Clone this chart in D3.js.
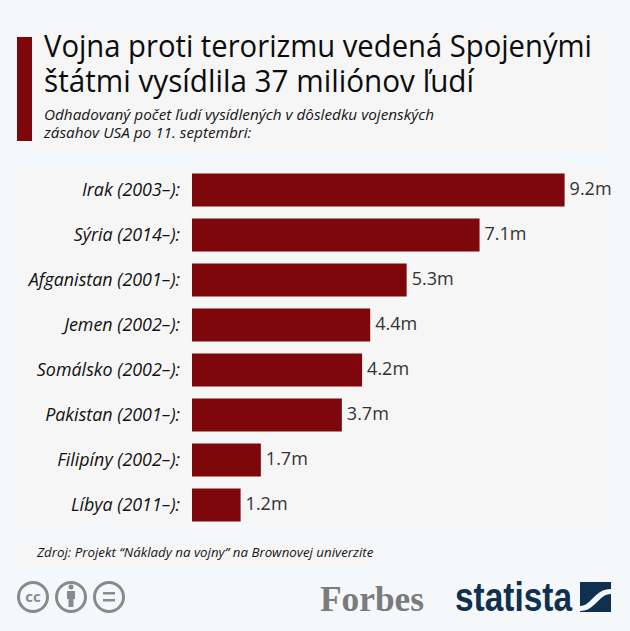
<!DOCTYPE html>
<html>
<head>
<meta charset="utf-8">
<script src="https://cdn.jsdelivr.net/npm/d3@7"></script>
<style>
    html, body { margin: 0; padding: 0; background: #f5f8fb; }
    svg { display: block; }
    text { font-family: "Open Sans", sans-serif; }
</style>
</head>
<body>
<div id="chart"></div>
<script>
const countries = ["Irak (2003–):", "Sýria (2014–):", "Afganistan (2001–):", "Jemen (2002–):",
    "Somálsko (2002–):", "Pakistan (2001–):", "Filipíny (2002–):", "Líbya (2011–):"];
const displaced = [9.2, 7.1, 5.3, 4.4, 4.2, 3.7, 1.7, 1.2];
const titleLines = ["Vojna proti terorizmu vedená Spojenými", "štátmi vysídlila 37 miliónov ľudí"];
const subtitleLines = ["Odhadovaný počet ľudí vysídlených v dôsledku vojenských", "zásahov USA po 11. septembri:"];
const source = "Zdroj: Projekt “Náklady na vojny”  na Brownovej univerzite";

const width = 630, height = 631;
const red = "#7d070b";

const svg = d3.select("#chart")
    .append("svg")
    .attr("width", width)
    .attr("height", height);

// background panels
svg.append("rect").attr("x", 0).attr("y", 0).attr("width", width).attr("height", height).attr("fill", "#f5f8fb");
svg.append("rect").attr("x", 32).attr("y", 30).attr("width", 578).attr("height", 123).attr("fill", "#f6f6f7");
svg.append("rect").attr("x", 16).attr("y", 170).attr("width", 596).attr("height", 354).attr("fill", "#f6f6f7");
svg.append("rect").attr("x", 12).attr("y", 541).attr("width", 362).attr("height", 26).attr("fill", "#f6f6f7");
svg.append("rect").attr("x", 17).attr("y", 37).attr("width", 15).attr("height", 104).attr("fill", red);

// header
svg.selectAll(".title")
    .data(titleLines)
    .join("text")
    .attr("class", "title")
    .attr("x", 44)
    .attr("y", (d, i) => 57 + i * 35)
    .attr("font-size", 30.5)
    .attr("font-weight", 500)
    .attr("fill", "#0c0c0c")
    .attr("textLength", (d, i) => i === 0 ? 548 : 430)
    .attr("lengthAdjust", "spacingAndGlyphs")
    .text(d => d);

svg.selectAll(".subtitle")
    .data(subtitleLines)
    .join("text")
    .attr("class", "subtitle")
    .attr("x", 44)
    .attr("y", (d, i) => 120 + i * 18)
    .attr("font-size", 15.3)
    .attr("font-style", "italic")
    .attr("font-weight", 500)
    .attr("fill", "#151515")
    .text(d => d);

// scales
const x = d3.scaleLinear().domain([0, 10]).range([192, 597]);
const y = d3.scaleBand()
    .domain(countries)
    .range([167.5, 527.5])
    .paddingInner(12 / 45)
    .paddingOuter(6 / 45);

// bars
svg.append("g")
    .selectAll("rect")
    .data(displaced)
    .join("rect")
    .attr("x", x(0))
    .attr("y", (d, i) => y(countries[i]))
    .attr("width", d => x(d) - x(0))
    .attr("height", y.bandwidth())
    .attr("fill", red);

// category labels
svg.append("g")
    .selectAll("text")
    .data(countries)
    .join("text")
    .attr("x", 180)
    .attr("y", d => y(d) + y.bandwidth() / 2)
    .attr("dy", "0.35em")
    .attr("text-anchor", "end")
    .attr("font-size", 17.9)
    .attr("font-style", "italic")
    .attr("font-weight", 500)
    .attr("fill", "#111")
    .text(d => d);

// value labels
svg.append("g")
    .selectAll("text")
    .data(displaced)
    .join("text")
    .attr("x", d => x(d) + 5)
    .attr("y", (d, i) => y(countries[i]) + y.bandwidth() / 2 - 1)
    .attr("dy", "0.35em")
    .attr("font-size", 18)
    .attr("fill", "#333")
    .text(d => d3.format(".1f")(d) + "m");

// source
svg.append("text")
    .attr("x", 37)
    .attr("y", 557)
    .attr("font-size", 13.3)
    .attr("font-style", "italic")
    .attr("font-weight", 500)
    .attr("fill", "#151515")
    .text(source);

// cc icons
const icons = svg.append("g").attr("fill", "none").attr("stroke", "#8a8a8a").attr("stroke-width", 3);
[33, 71, 109].forEach(cx => {
    icons.append("circle").attr("cx", cx).attr("cy", 597).attr("r", 14.5);
});
svg.append("text").attr("x", 33).attr("y", 602).attr("text-anchor", "middle")
    .attr("font-size", 15).attr("font-weight", 700).attr("fill", "#8a8a8a").text("cc");
svg.append("circle").attr("cx", 71).attr("cy", 587).attr("r", 2.5).attr("fill", "#8a8a8a");
svg.append("rect").attr("x", 67).attr("y", 591).attr("width", 8).attr("height", 8).attr("fill", "#8a8a8a");
svg.append("rect").attr("x", 68.5).attr("y", 598).attr("width", 5).attr("height", 9).attr("fill", "#8a8a8a");
svg.append("rect").attr("x", 103).attr("y", 592).attr("width", 12).attr("height", 2.5).attr("fill", "#8a8a8a");
svg.append("rect").attr("x", 103).attr("y", 599).attr("width", 12).attr("height", 2.5).attr("fill", "#8a8a8a");

// logos
svg.append("text")
    .attr("x", 320)
    .attr("y", 611)
    .attr("font-size", 36)
    .attr("font-weight", 700)
    .attr("fill", "#7b7b7b")
    .style("font-family", "'Liberation Serif', serif")
    .attr("textLength", 104)
    .attr("lengthAdjust", "spacingAndGlyphs")
    .text("Forbes");

svg.append("text")
    .attr("x", 455)
    .attr("y", 611)
    .attr("font-size", 41)
    .attr("font-weight", 700)
    .attr("fill", "#10304f")
    .style("font-family", "'Liberation Sans Narrow', 'Liberation Sans', sans-serif")
    .attr("textLength", 117)
    .attr("lengthAdjust", "spacingAndGlyphs")
    .text("statista");

svg.append("rect").attr("x", 580).attr("y", 582).attr("width", 31).attr("height", 30).attr("fill", "#10304f");
svg.append("path")
    .attr("d", "M580 606 C592 606 594 589 611 589 L611 594 C598 594 596 611 580 611 Z")
    .attr("fill", "#f5f8fb");
</script>
</body>
</html>
